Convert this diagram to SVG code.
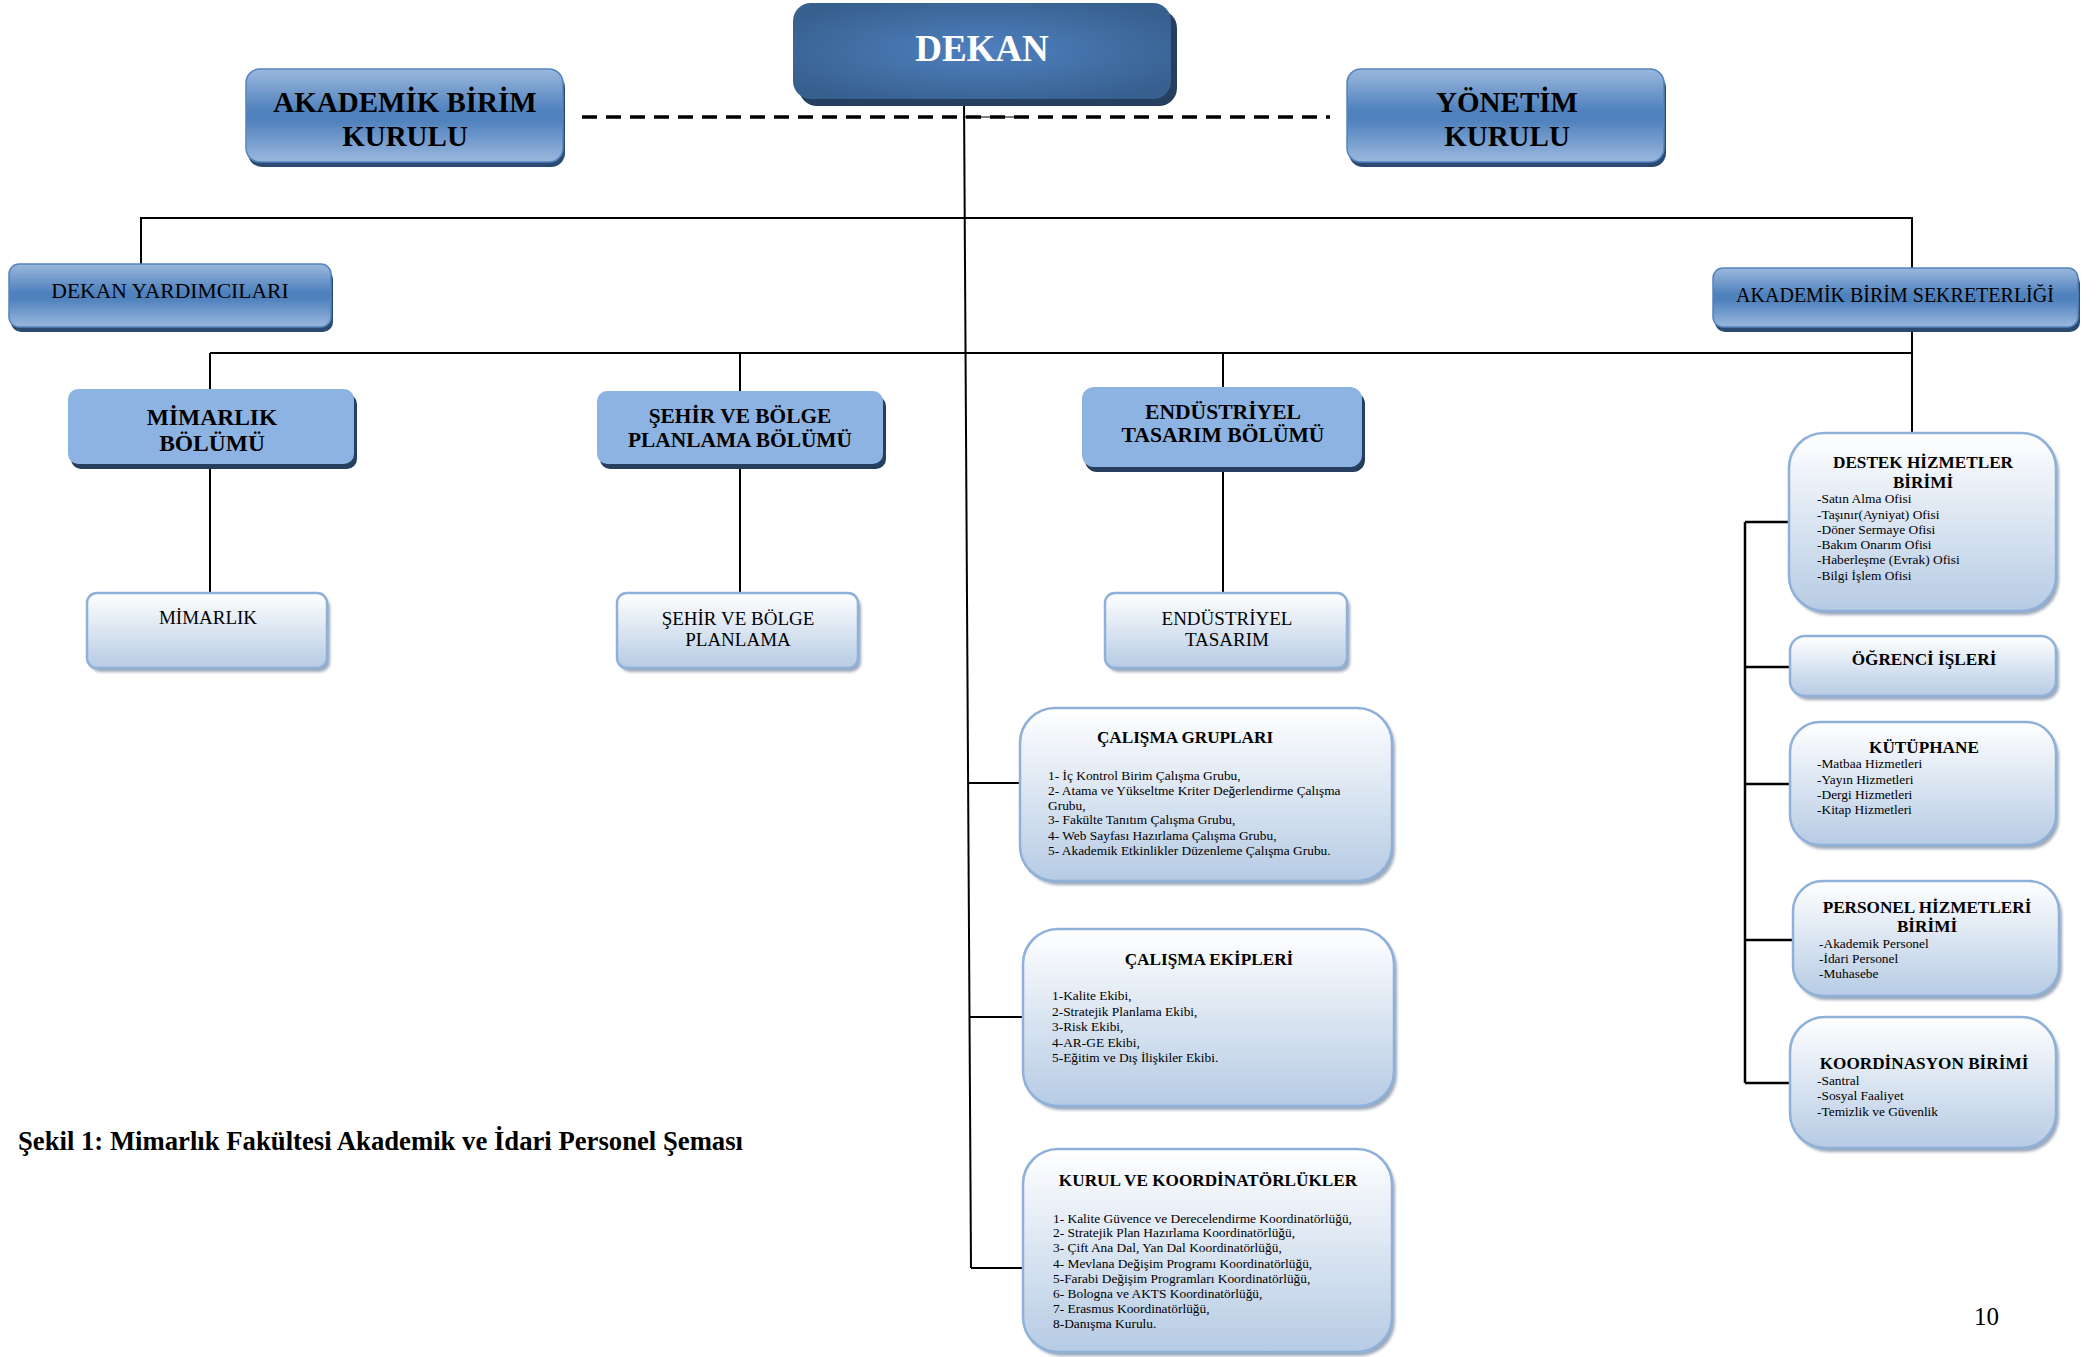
<svg xmlns="http://www.w3.org/2000/svg" width="2096" height="1357" viewBox="0 0 2096 1357">
<style>
text{font-family:"Liberation Serif","Times New Roman",serif;fill:#000}
.b{font-weight:bold}
.c{text-anchor:middle}
.ln{stroke:#000;stroke-width:2;fill:none}
.lnb{stroke:#000;stroke-width:2.5;fill:none}
.dash{stroke:#000;stroke-width:3.5;stroke-dasharray:15 9;fill:none}
.sh-dark{fill:#263f5e}
.sh-med{fill:#2b4a72}
.sh-light{fill:#8a99ad;opacity:.85}
.f-dekan{fill:url(#gDekan)}
.f-med{fill:url(#gMed);stroke:#5583bd;stroke-width:1.5}
.f-dept{fill:#8db3e2}
.f-light{fill:url(#gLight);stroke:#8eb0d9;stroke-width:2.5}
.t13{font-size:13.4px}
.t17{font-size:17.2px}
</style>
<defs>
<radialGradient id="gDekan" cx="0.5" cy="0.5" r="0.6">
<stop offset="0" stop-color="#4f80bf"/>
<stop offset="1" stop-color="#37608f"/>
</radialGradient>
<linearGradient id="gMed" x1="0" y1="0" x2="0" y2="1">
<stop offset="0" stop-color="#9bb8dd"/>
<stop offset="0.45" stop-color="#4f81bd"/>
<stop offset="0.55" stop-color="#4f81bd"/>
<stop offset="1" stop-color="#9bb8dd"/>
</linearGradient>
<linearGradient id="gLight" x1="0" y1="0" x2="0" y2="1">
<stop offset="0" stop-color="#ffffff"/>
<stop offset="1" stop-color="#b6cbe4"/>
</linearGradient>
<filter id="blur" x="-5%" y="-5%" width="110%" height="115%"><feGaussianBlur stdDeviation="1.5"/></filter>
</defs>

<g id="connectors">
<line class="dash" x1="582" y1="117" x2="1330" y2="117"/>
<line x1="963" y1="117" x2="1015" y2="117" stroke="#000" stroke-width="1.2"/>
<line class="ln" x1="964" y1="97" x2="971" y2="1268"/>
<polyline class="ln" points="141,265 141,218 1912,218 1912,268"/>
<line class="ln" x1="1912" y1="332" x2="1912" y2="433"/>
<line class="ln" x1="210" y1="353" x2="1912" y2="353"/>
<line class="ln" x1="210" y1="353" x2="210" y2="389"/>
<line class="ln" x1="740" y1="353" x2="740" y2="391"/>
<line class="ln" x1="1223" y1="353" x2="1223" y2="387"/>
<line class="ln" x1="210" y1="469" x2="210" y2="593"/>
<line class="ln" x1="740" y1="469" x2="740" y2="593"/>
<line class="ln" x1="1223" y1="472" x2="1223" y2="593"/>
<line class="ln" x1="968" y1="783" x2="1020" y2="783"/>
<line class="ln" x1="969" y1="1017" x2="1023" y2="1017"/>
<line class="ln" x1="971" y1="1268" x2="1023" y2="1268"/>
<line class="lnb" x1="1745" y1="522" x2="1745" y2="1083"/>
<line class="lnb" x1="1745" y1="522" x2="1789" y2="522"/>
<line class="lnb" x1="1745" y1="667" x2="1790" y2="667"/>
<line class="lnb" x1="1745" y1="784" x2="1790" y2="784"/>
<line class="lnb" x1="1745" y1="940" x2="1793" y2="940"/>
<line class="lnb" x1="1745" y1="1083" x2="1790" y2="1083"/>
</g>

<g id="dekan">
<rect class="sh-dark" x="799" y="10" width="378" height="96" rx="18"/>
<rect class="f-dekan" x="793" y="3" width="378" height="96" rx="18"/>
<text class="b c" x="982" y="61" font-size="37" style="fill:#fff">DEKAN</text>
</g>

<g id="akademik-birim-kurulu">
<rect class="sh-med" x="248" y="74" width="317" height="93" rx="14"/>
<rect class="f-med" x="246" y="69" width="317" height="93" rx="14"/>
<text class="b c" x="405" y="112" font-size="29">AKADEMİK BİRİM</text>
<text class="b c" x="405" y="146" font-size="29">KURULU</text>
</g>

<g id="yonetim-kurulu">
<rect class="sh-med" x="1349" y="74" width="317" height="93" rx="14"/>
<rect class="f-med" x="1347" y="69" width="317" height="93" rx="14"/>
<text class="b c" x="1507" y="112" font-size="29">YÖNETİM</text>
<text class="b c" x="1507" y="146" font-size="29">KURULU</text>
</g>

<g id="dekan-yardimcilari">
<rect class="sh-med" x="11" y="269" width="322" height="63" rx="10"/>
<rect class="f-med" x="9" y="264" width="322" height="63" rx="10"/>
<text class="c" x="170" y="298" font-size="21.6">DEKAN YARDIMCILARI</text>
</g>

<g id="akademik-birim-sekreterligi">
<rect class="sh-med" x="1715" y="273" width="365" height="59" rx="10"/>
<rect class="f-med" x="1713" y="268" width="365" height="59" rx="10"/>
<text class="c" x="1895" y="302" font-size="20">AKADEMİK BİRİM SEKRETERLİĞİ</text>
</g>

<g id="mimarlik-bolumu">
<rect class="sh-dark" x="71" y="394" width="286" height="75" rx="10"/>
<rect class="f-dept" x="68" y="389" width="286" height="75" rx="10"/>
<text class="b c" x="212" y="425" font-size="23.5">MİMARLIK</text>
<text class="b c" x="212" y="451" font-size="23.5">BÖLÜMÜ</text>
</g>

<g id="sehir-bolumu">
<rect class="sh-dark" x="600" y="396" width="286" height="73" rx="10"/>
<rect class="f-dept" x="597" y="391" width="286" height="73" rx="10"/>
<text class="b c" x="740" y="423" font-size="21.4">ŞEHİR VE BÖLGE</text>
<text class="b c" x="740" y="447" font-size="21.4">PLANLAMA BÖLÜMÜ</text>
</g>

<g id="endustriyel-bolumu">
<rect class="sh-dark" x="1085" y="392" width="280" height="80" rx="12"/>
<rect class="f-dept" x="1082" y="387" width="280" height="80" rx="12"/>
<text class="b c" x="1223" y="419" font-size="21.6">ENDÜSTRİYEL</text>
<text class="b c" x="1223" y="442" font-size="21.6">TASARIM BÖLÜMÜ</text>
</g>

<g id="mimarlik">
<rect class="sh-light" x="90" y="597" width="240" height="75" rx="10" filter="url(#blur)"/>
<rect class="f-light" x="87" y="593" width="240" height="75" rx="10"/>
<text class="c" x="208" y="624" font-size="19">MİMARLIK</text>
</g>

<g id="sehir">
<rect class="sh-light" x="620" y="597" width="241" height="75" rx="10" filter="url(#blur)"/>
<rect class="f-light" x="617" y="593" width="241" height="75" rx="10"/>
<text class="c" x="738" y="625" font-size="19">ŞEHİR VE BÖLGE</text>
<text class="c" x="738" y="646" font-size="19">PLANLAMA</text>
</g>

<g id="endustriyel">
<rect class="sh-light" x="1108" y="597" width="242" height="75" rx="10" filter="url(#blur)"/>
<rect class="f-light" x="1105" y="593" width="242" height="75" rx="10"/>
<text class="c" x="1227" y="625" font-size="19">ENDÜSTRİYEL</text>
<text class="c" x="1227" y="646" font-size="19">TASARIM</text>
</g>

<g id="calisma-gruplari">
<rect class="sh-light" x="1023" y="712" width="372" height="173" rx="35" filter="url(#blur)"/>
<rect class="f-light" x="1020" y="708" width="372" height="173" rx="35"/>
<text class="b c t17" x="1185" y="743">ÇALIŞMA GRUPLARI</text>
<text class="t13" x="1048" y="780">1- İç Kontrol Birim Çalışma Grubu,</text>
<text class="t13" x="1048" y="795">2- Atama ve Yükseltme Kriter Değerlendirme Çalışma</text>
<text class="t13" x="1048" y="810">Grubu,</text>
<text class="t13" x="1048" y="824">3- Fakülte Tanıtım Çalışma Grubu,</text>
<text class="t13" x="1048" y="840">4- Web Sayfası Hazırlama Çalışma Grubu,</text>
<text class="t13" x="1048" y="855">5- Akademik Etkinlikler Düzenleme Çalışma Grubu.</text>
</g>

<g id="calisma-ekipleri">
<rect class="sh-light" x="1026" y="933" width="371" height="177" rx="35" filter="url(#blur)"/>
<rect class="f-light" x="1023" y="929" width="371" height="177" rx="35"/>
<text class="b c t17" x="1209" y="965">ÇALIŞMA EKİPLERİ</text>
<text class="t13" x="1052" y="1000">1-Kalite Ekibi,</text>
<text class="t13" x="1052" y="1016">2-Stratejik Planlama Ekibi,</text>
<text class="t13" x="1052" y="1031">3-Risk Ekibi,</text>
<text class="t13" x="1052" y="1047">4-AR-GE Ekibi,</text>
<text class="t13" x="1052" y="1062">5-Eğitim ve Dış İlişkiler Ekibi.</text>
</g>

<g id="kurul-koordinatorlukler">
<rect class="sh-light" x="1026" y="1153" width="369" height="203" rx="35" filter="url(#blur)"/>
<rect class="f-light" x="1023" y="1149" width="369" height="203" rx="35"/>
<text class="b c t17" x="1208" y="1186">KURUL VE KOORDİNATÖRLÜKLER</text>
<text class="t13" x="1053" y="1223">1- Kalite Güvence ve Derecelendirme Koordinatörlüğü,</text>
<text class="t13" x="1053" y="1237">2- Stratejik Plan Hazırlama Koordinatörlüğü,</text>
<text class="t13" x="1053" y="1252">3- Çift Ana Dal, Yan Dal Koordinatörlüğü,</text>
<text class="t13" x="1053" y="1268">4- Mevlana Değişim Programı Koordinatörlüğü,</text>
<text class="t13" x="1053" y="1283">5-Farabi Değişim Programları Koordinatörlüğü,</text>
<text class="t13" x="1053" y="1298">6- Bologna ve AKTS Koordinatörlüğü,</text>
<text class="t13" x="1053" y="1313">7- Erasmus Koordinatörlüğü,</text>
<text class="t13" x="1053" y="1328">8-Danışma Kurulu.</text>
</g>

<g id="destek-hizmetler">
<rect class="sh-light" x="1792" y="437" width="267" height="178" rx="35" filter="url(#blur)"/>
<rect class="f-light" x="1789" y="433" width="267" height="178" rx="35"/>
<text class="b c t17" x="1923" y="468">DESTEK HİZMETLER</text>
<text class="b c t17" x="1923" y="488">BİRİMİ</text>
<text class="t13" x="1817" y="503">-Satın Alma Ofisi</text>
<text class="t13" x="1817" y="519">-Taşınır(Ayniyat) Ofisi</text>
<text class="t13" x="1817" y="534">-Döner Sermaye Ofisi</text>
<text class="t13" x="1817" y="549">-Bakım Onarım Ofisi</text>
<text class="t13" x="1817" y="564">-Haberleşme (Evrak) Ofisi</text>
<text class="t13" x="1817" y="580">-Bilgi İşlem Ofisi</text>
</g>

<g id="ogrenci-isleri">
<rect class="sh-light" x="1793" y="640" width="266" height="60" rx="15" filter="url(#blur)"/>
<rect class="f-light" x="1790" y="636" width="266" height="60" rx="15"/>
<text class="b c t17" x="1924" y="665">ÖĞRENCİ İŞLERİ</text>
</g>

<g id="kutuphane">
<rect class="sh-light" x="1793" y="726" width="266" height="123" rx="30" filter="url(#blur)"/>
<rect class="f-light" x="1790" y="722" width="266" height="123" rx="30"/>
<text class="b c t17" x="1924" y="753">KÜTÜPHANE</text>
<text class="t13" x="1817" y="768">-Matbaa Hizmetleri</text>
<text class="t13" x="1817" y="784">-Yayın Hizmetleri</text>
<text class="t13" x="1817" y="799">-Dergi Hizmetleri</text>
<text class="t13" x="1817" y="814">-Kitap Hizmetleri</text>
</g>

<g id="personel-hizmetleri">
<rect class="sh-light" x="1796" y="885" width="266" height="115" rx="30" filter="url(#blur)"/>
<rect class="f-light" x="1793" y="881" width="266" height="115" rx="30"/>
<text class="b c t17" x="1927" y="913">PERSONEL HİZMETLERİ</text>
<text class="b c t17" x="1927" y="932">BİRİMİ</text>
<text class="t13" x="1819" y="948">-Akademik Personel</text>
<text class="t13" x="1819" y="963">-İdari Personel</text>
<text class="t13" x="1819" y="978">-Muhasebe</text>
</g>

<g id="koordinasyon-birimi">
<rect class="sh-light" x="1793" y="1021" width="266" height="131" rx="35" filter="url(#blur)"/>
<rect class="f-light" x="1790" y="1017" width="266" height="131" rx="35"/>
<text class="b c t17" x="1924" y="1069">KOORDİNASYON BİRİMİ</text>
<text class="t13" x="1817" y="1085">-Santral</text>
<text class="t13" x="1817" y="1100">-Sosyal Faaliyet</text>
<text class="t13" x="1817" y="1116">-Temizlik ve Güvenlik</text>
</g>

<text class="b" x="18" y="1150" font-size="26.7">Şekil 1: Mimarlık Fakültesi Akademik ve İdari Personel Şeması</text>
<text x="1974" y="1325" font-size="25">10</text>
</svg>
